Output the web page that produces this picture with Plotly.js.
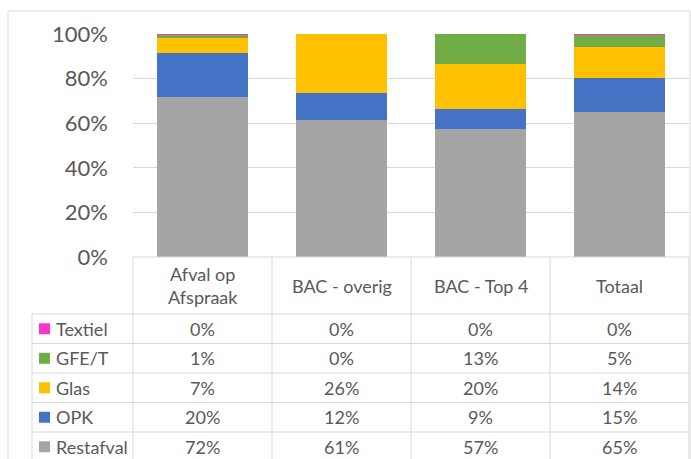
<!DOCTYPE html>
<html>
<head>
<meta charset="utf-8">
<script src="https://cdn.plot.ly/plotly-3.0.1.min.js"></script>
<style>html,body{margin:0;padding:0;background:#fff;}#chart{width:691px;height:459px;}</style>
</head>
<body>
<div id="chart"></div>
<script>
// ---- data ----
const categories = ['Afval op Afspraak', 'BAC - overig', 'BAC - Top 4', 'Totaal'];
const headerLabels = ['Afval op<br>Afspraak', 'BAC - overig', 'BAC - Top 4', 'Totaal'];
const seriesNames = ['Restafval', 'OPK', 'Glas', 'GFE/T', 'Textiel'];
const restafval = [71.7, 61.4, 57.2, 65.0];
const opk       = [19.9, 12.2, 9.3, 15.2];
const glas      = [6.6, 26.4, 20.1, 14.1];
const gfet      = [1.4, 0.0, 13.4, 5.3];
const textiel   = [0.4, 0.0, 0.0, 0.4];
const yTicks = [0, 20, 40, 60, 80, 100];
const yTickLabels = ['0%', '20%', '40%', '60%', '80%', '100%'];

// ---- styles ----
const colors = ['#A5A5A5', '#4472C4', '#FFC000', '#70AD47', '#FF33CC'];
const seriesValues = [restafval, opk, glas, gfet, textiel];
const W = 691, H = 459;
const L = 133, R = 689, T = 34, B = 257;
const font = 'Lato, "Open Sans", sans-serif';
const txt = '#595959';
const line = '#D9D9D9';
const px = x => (x - L) / (R - L);
const py = y => (B - y) / (B - T);

const traces = seriesNames.map((n, i) => ({
  type: 'bar', name: n, x: categories, y: seriesValues[i],
  marker: {color: colors[i], line: {width: 0}}, hoverinfo: 'none'
}));

// table geometry (pixels)
const headerBottom = 314;
const rowH = 29.5;
const tableLeft = 32;
const rowOrder = [4, 3, 2, 1, 0]; // Textiel at top, Restafval at bottom
const tfs = 18;

const shapes = [];
const annotations = [];
shapes.push({type: 'rect', xref: 'paper', yref: 'paper', x0: px(8), x1: px(690), y0: py(11), y1: py(470),
  line: {color: line, width: 1}, fillcolor: 'rgba(0,0,0,0)', layer: 'below'});
shapes.push({type: 'line', xref: 'paper', yref: 'paper', x0: 0, x1: 1, y0: 0, y1: 0, line: {color: line, width: 1}});
for (let r = 0; r < rowOrder.length; r++) {
  const y = headerBottom + r * rowH;
  shapes.push({type: 'line', xref: 'paper', yref: 'paper', x0: px(tableLeft), x1: 1, y0: py(y), y1: py(y), line: {color: line, width: 1}});
}
shapes.push({type: 'line', xref: 'paper', yref: 'paper', x0: px(tableLeft), x1: px(tableLeft), y0: py(headerBottom), y1: py(470), line: {color: line, width: 1}});
for (let c = 0; c <= categories.length; c++) {
  const x = c / categories.length;
  shapes.push({type: 'line', xref: 'paper', yref: 'paper', x0: x, x1: x, y0: 0, y1: py(470), line: {color: line, width: 1}});
}
categories.forEach((c, i) => {
  annotations.push({xref: 'x', yref: 'paper', x: c, y: py((B + headerBottom) / 2), text: headerLabels[i],
    showarrow: false, xanchor: 'center', yanchor: 'middle', font: {family: font, size: tfs, color: txt}});
});
rowOrder.forEach((si, r) => {
  const yc = headerBottom + r * rowH + rowH / 2;
  shapes.push({type: 'rect', xref: 'paper', yref: 'paper', x0: px(39), x1: px(50), y0: py(yc - 5.5), y1: py(yc + 5.5),
    fillcolor: colors[si], line: {width: 0}});
  annotations.push({xref: 'paper', yref: 'paper', x: px(54), y: py(yc), text: seriesNames[si], showarrow: false,
    xanchor: 'left', yanchor: 'middle', font: {family: font, size: tfs, color: txt}});
  categories.forEach((c, i) => {
    annotations.push({xref: 'x', yref: 'paper', x: c, y: py(yc), text: Math.round(seriesValues[si][i]) + '%',
      showarrow: false, xanchor: 'center', yanchor: 'middle', font: {family: font, size: tfs, color: txt}});
  });
});

const layout = {
  width: W, height: H,
  margin: {l: L, r: W - R, t: T, b: H - B, pad: 0},
  paper_bgcolor: '#fff', plot_bgcolor: '#fff',
  barmode: 'stack', bargap: 0.34,
  showlegend: false,
  xaxis: {type: 'category', showticklabels: false, showgrid: false, zeroline: false, showline: false, ticks: '', range: [-0.5, 3.5]},
  yaxis: {range: [0, 100], tickmode: 'array', tickvals: yTicks, ticktext: yTickLabels, showgrid: true, gridcolor: line, gridwidth: 1,
    zeroline: false, showline: false, ticks: '', ticklabelstandoff: 24,
    tickfont: {family: font, size: 22, color: txt}},
  shapes: shapes,
  annotations: annotations
};

Plotly.newPlot('chart', traces, layout, {displayModeBar: false, staticPlot: true});
</script>
</body>
</html>
